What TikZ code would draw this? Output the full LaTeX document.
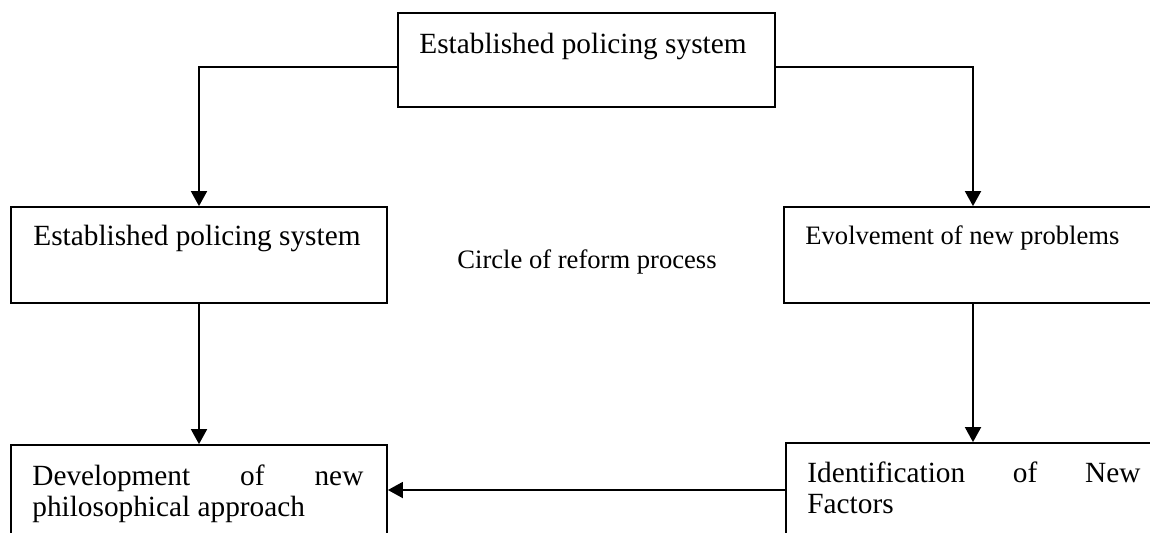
\documentclass[tikz,border=0pt]{standalone}
\usepackage{fontspec}
\setmainfont{Liberation Serif}
\usetikzlibrary{arrows.meta}
\tikzset{
  box/.style={draw, line width=0.9pt, inner sep=0pt, rectangle},
  conn/.style={line width=0.9pt},
  arr/.style={conn, -{Triangle[length=7.5pt,width=8pt]}},
  big/.style={inner sep=0pt, font=\fontsize{14.65}{15.5}\selectfont},
  mid/.style={inner sep=0pt, font=\fontsize{13.3}{15}\selectfont},
}
\begin{document}
\begin{tikzpicture}[x=0.5pt,y=-0.5pt]
\useasboundingbox (0,0) rectangle (1150,532);
\clip (0,0) rectangle (1150,532);
% boxes
\node[box, minimum width=188.5pt, minimum height=47pt] (top) at (586.5,60) {};
\node[box, minimum width=188pt, minimum height=48pt] (left) at (199,255) {};
\node[box, minimum width=189pt, minimum height=48pt] (right) at (973,255) {};
\node[box, minimum width=188pt, minimum height=45pt] (bl) at (199,490) {};
\node[box, minimum width=187pt, minimum height=47pt] (br) at (973,490) {};
% texts
\node[big, anchor=base west] (ttop) at (419,53) {Established policing system};
\node[big, anchor=base west] (tleft) at (33,245) {Established policing system};
\node[mid, anchor=base west] (tright) at (805,244) {Evolvement of new problems};
\node[mid, anchor=base west] (tcenter) at (457,268) {Circle of reform process};
\node[big, anchor=base west, align=left] (tbl) at (32,516) {\makebox[165.5pt][s]{Development of new}\\philosophical approach};
\node[big, anchor=base west, align=left] (tbr) at (807,513) {\makebox[166.5pt][s]{Identification of New}\\Factors};
% connectors
\draw[arr] ([yshift=-3.5pt]top.west) -| (left.north);
\draw[arr] ([yshift=-3.5pt]top.east) -| (right.north);
\draw[arr] (left.south) -- (bl.north);
\draw[arr] (right.south) -- (br.north);
\draw[arr] (br.west) -- (bl.east);
\end{tikzpicture}
\end{document}
